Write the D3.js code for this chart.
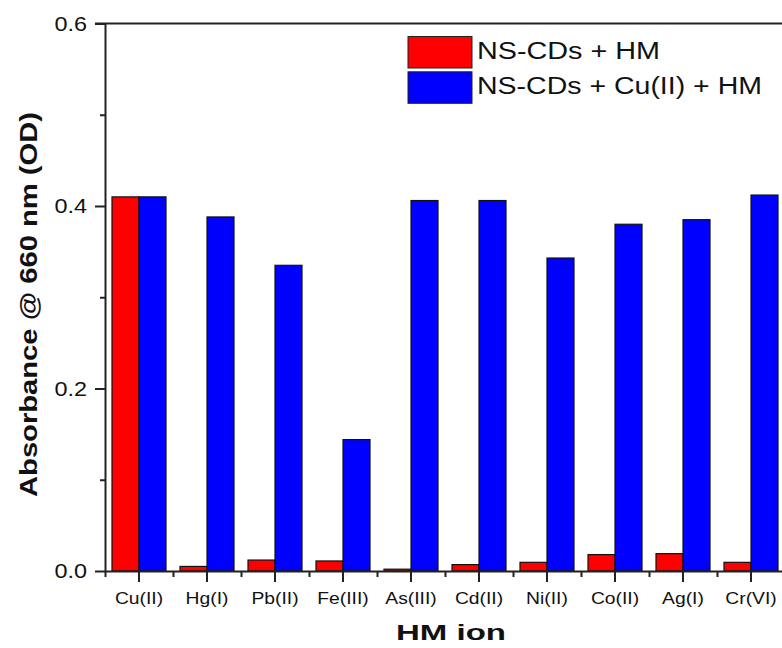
<!DOCTYPE html>
<html>
<head>
<meta charset="utf-8">
<script src="https://cdn.jsdelivr.net/npm/d3@7"></script>
<style>
  body { margin: 0; background: #fff; }
  svg { font-family: "Liberation Sans", Arial, sans-serif; }
  .axis path, .axis line { stroke: #222; stroke-width: 2; }
</style>
</head>
<body>
<script>
var ions = ["Cu(II)", "Hg(I)", "Pb(II)", "Fe(III)", "As(III)", "Cd(II)", "Ni(II)", "Co(II)", "Ag(I)", "Cr(VI)"];
var series = ["NS-CDs + HM", "NS-CDs + Cu(II) + HM"];
var withoutCu = [0.410, 0.005, 0.012, 0.011, 0.002, 0.007, 0.0095, 0.018, 0.019, 0.0095];
var withCu = [0.410, 0.388, 0.335, 0.144, 0.406, 0.406, 0.343, 0.380, 0.385, 0.412];
var yTicks = [0, 0.2, 0.4, 0.6];
var yMinor = [0.1, 0.3, 0.5];
var colors = ["#ff0000", "#0000ff"];

var W = 782, H = 648;
var plotLeft = 105, plotRight = 785, plotTop = 23.5, plotBottom = 571;

var svg = d3.select("body").append("svg")
    .attr("width", W)
    .attr("height", H);

var x = d3.scaleBand()
    .domain(ions)
    .range([plotLeft, plotRight]);

var xs = d3.scaleBand()
    .domain(series)
    .range([0, x.bandwidth()])
    .paddingOuter(7 / 27);

var y = d3.scaleLinear()
    .domain([0, 0.6])
    .range([plotBottom, plotTop]);

var color = d3.scaleOrdinal().domain(series).range(colors);

var data = ions.map(function(d, i) {
    return {ion: d, values: [withoutCu[i], withCu[i]]};
});

// bars
var groups = svg.selectAll(".grp")
    .data(data)
    .enter().append("g")
    .attr("class", "grp")
    .attr("transform", function(d) { return "translate(" + x(d.ion) + ",0)"; });

groups.selectAll("rect")
    .data(function(d) { return d.values.map(function(v, i) { return {s: series[i], v: v}; }); })
    .enter().append("rect")
    .attr("x", function(d) { return xs(d.s); })
    .attr("width", xs.bandwidth())
    .attr("y", function(d) { return y(d.v); })
    .attr("height", function(d) { return plotBottom - y(d.v); })
    .attr("fill", function(d) { return color(d.s); })
    .attr("stroke", "#111")
    .attr("stroke-width", 1.2);

// minor ticks
var yMinorAxis = d3.axisLeft(y).tickValues(yMinor).tickSize(5).tickFormat("");
svg.append("g")
    .attr("class", "axis")
    .attr("transform", "translate(" + plotLeft + ",0)")
    .call(yMinorAxis)
    .select(".domain").remove();

var xMinor = d3.scaleLinear().domain([0, 10]).range([plotLeft, plotRight]);
var xMinorAxis = d3.axisBottom(xMinor).tickValues(d3.range(0, 11)).tickSize(6).tickFormat("");
svg.append("g")
    .attr("class", "axis")
    .attr("transform", "translate(0," + plotBottom + ")")
    .call(xMinorAxis)
    .select(".domain").remove();

// y axis
var yAxis = d3.axisLeft(y)
    .tickValues(yTicks)
    .tickSize(10)
    .tickSizeOuter(0)
    .tickFormat(d3.format(".1f"));

var gy = svg.append("g")
    .attr("class", "axis")
    .attr("transform", "translate(" + plotLeft + ",0)")
    .call(yAxis);

gy.selectAll("text")
    .attr("x", null)
    .attr("dy", "0.35em")
    .attr("transform", "translate(-18,0) scale(1.2,1)")
    .style("font-size", "19.5px")
    .style("fill", "#111");

// x axis
var xAxis = d3.axisBottom(x)
    .tickSize(11)
    .tickSizeOuter(0);

var gx = svg.append("g")
    .attr("class", "axis")
    .attr("transform", "translate(0," + plotBottom + ")")
    .call(xAxis);

gx.selectAll("text")
    .attr("y", null)
    .attr("dy", null)
    .attr("transform", "translate(0,33) scale(1.17,1)")
    .style("font-size", "16.5px")
    .style("fill", "#111");

// top frame line
svg.append("line")
    .attr("x1", plotLeft - 10)
    .attr("x2", plotRight)
    .attr("y1", plotTop)
    .attr("y2", plotTop)
    .attr("stroke", "#222")
    .attr("stroke-width", 2);

// axis titles
svg.append("text")
    .attr("x", 451)
    .attr("y", 640)
    .attr("text-anchor", "middle")
    .attr("textLength", 110)
    .attr("lengthAdjust", "spacingAndGlyphs")
    .style("font-size", "22px")
    .style("font-weight", "bold")
    .style("fill", "#111")
    .text("HM ion");

svg.append("text")
    .attr("transform", "translate(37,304.5) rotate(-90)")
    .attr("text-anchor", "middle")
    .attr("textLength", 385)
    .attr("lengthAdjust", "spacingAndGlyphs")
    .style("font-size", "23px")
    .style("font-weight", "bold")
    .style("fill", "#111")
    .text("Absorbance @ 660 nm (OD)");

// legend
var legendW = [183, 285];
var legend = svg.selectAll(".legend")
    .data(series)
    .enter().append("g")
    .attr("class", "legend")
    .attr("transform", function(d, i) { return "translate(408," + (36.5 + i * 35.3) + ")"; });

legend.append("rect")
    .attr("width", 64)
    .attr("height", 31.5)
    .attr("fill", color)
    .attr("stroke", "#222")
    .attr("stroke-width", 1);

legend.append("text")
    .attr("x", 69)
    .attr("y", 22)
    .attr("textLength", function(d, i) { return legendW[i]; })
    .attr("lengthAdjust", "spacingAndGlyphs")
    .style("font-size", "23px")
    .style("fill", "#111")
    .text(function(d) { return d; });
</script>
</body>
</html>
